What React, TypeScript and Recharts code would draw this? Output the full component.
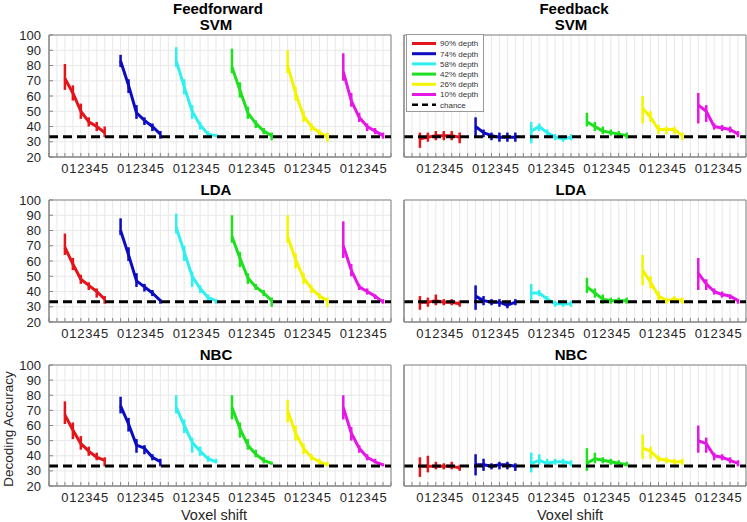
import React from 'react';
import { LineChart, Line, XAxis, YAxis, CartesianGrid, ReferenceLine, ReferenceArea, ErrorBar } from 'recharts';

const depthLabels = ['90% depth', '74% depth', '58% depth', '42% depth', '26% depth', '10% depth'];
const depthColors = ['#e3151a', '#0b0bc2', '#2ef0f0', '#1ee01e', '#f4f400', '#e616e6'];
const shiftLabels = ['0', '1', '2', '3', '4', '5'];
const groupStarts = [2, 9, 16, 23, 30, 37];
const yTicks = [20, 30, 40, 50, 60, 70, 80, 90, 100];
const chance = 33.3;

// Feedforward SVM
const ffSvmMean = [
  [71.5, 62, 50, 43, 40, 36],
  [83, 67, 49, 44, 40, 35],
  [83, 66, 50, 41, 35, 34],
  [79, 64, 49, 42, 37, 34],
  [80, 62, 47, 40, 36, 33],
  [76, 57, 46, 40, 37, 34],
];
const ffSvmLow = [
  [64, 57, 45, 40, 37, 33],
  [79, 62, 45, 41, 37, 32],
  [79, 61, 45, 38, 33, 33],
  [75, 59, 45, 39, 35, 31],
  [75, 57, 43, 37, 34, 30],
  [70, 53, 43, 37, 35, 32],
];
const ffSvmHigh = [
  [81, 67, 55, 46, 43, 40],
  [87, 71, 54, 46, 42, 37],
  [92, 71, 54, 43, 37, 35],
  [91, 69, 53, 44, 39, 36],
  [90, 66, 50, 42, 38, 36],
  [88, 62, 49, 42, 39, 36],
];

// Feedback SVM
const fbSvmMean = [
  [32, 33, 34, 34, 34, 33],
  [40, 36, 34, 33, 33, 33],
  [37, 40, 36, 33, 32, 33],
  [43, 40, 37, 36, 35, 34],
  [52, 46, 38, 38, 38, 34],
  [54, 50, 40, 39, 38, 35],
];
const fbSvmLow = [
  [26, 30, 31, 31, 31, 29],
  [33, 33, 31, 30, 30, 30],
  [29, 37, 33, 31, 30, 31],
  [40, 37, 35, 34, 33, 32],
  [42, 43, 35, 35, 35, 31],
  [42, 43, 38, 37, 36, 33],
];
const fbSvmHigh = [
  [36, 36, 37, 37, 37, 36],
  [46, 38, 36, 36, 36, 36],
  [43, 42, 38, 35, 34, 35],
  [49, 43, 40, 38, 37, 36],
  [60, 50, 41, 40, 40, 36],
  [62, 54, 42, 41, 40, 37],
];

// Feedforward LDA
const ffLdaMean = [
  [69, 58, 48, 44, 40, 35],
  [80, 64, 47, 43, 39, 34],
  [82, 66, 50, 42, 36, 34],
  [76, 62, 49, 43, 39, 34],
  [76, 61, 49, 42, 37, 34],
  [70, 54, 43, 40, 37, 33],
];
const ffLdaLow = [
  [64, 54, 45, 41, 36, 32],
  [77, 60, 43, 40, 37, 32],
  [78, 60, 43, 39, 34, 32],
  [72, 56, 45, 41, 37, 30],
  [72, 55, 45, 39, 35, 30],
  [62, 50, 41, 38, 35, 32],
];
const ffLdaHigh = [
  [78, 62, 51, 46, 42, 37],
  [88, 69, 52, 45, 41, 35],
  [91, 70, 53, 44, 38, 35],
  [90, 66, 52, 45, 41, 36],
  [90, 65, 52, 44, 39, 36],
  [86, 58, 45, 42, 38, 35],
];

// Feedback LDA
const fbLdaMean = [
  [33, 33, 34, 33, 33, 32],
  [37, 34, 33, 33, 31, 33],
  [39, 39, 35, 32, 32, 32],
  [43, 39, 35, 34, 34, 34],
  [54, 46, 37, 34, 35, 34],
  [52, 45, 40, 38, 37, 34],
];
const fbLdaLow = [
  [28, 30, 31, 31, 31, 30],
  [28, 31, 31, 30, 29, 31],
  [33, 37, 33, 30, 30, 30],
  [39, 36, 32, 32, 32, 32],
  [44, 42, 34, 32, 33, 32],
  [41, 41, 38, 36, 35, 32],
];
const fbLdaHigh = [
  [37, 36, 38, 35, 35, 34],
  [44, 37, 35, 35, 33, 35],
  [45, 41, 37, 34, 34, 34],
  [49, 42, 38, 36, 36, 36],
  [64, 50, 40, 36, 37, 36],
  [62, 48, 42, 40, 38, 35],
];

// Feedforward NBC
const ffNbcMean = [
  [67, 57, 48, 43, 39, 37],
  [73, 61, 47, 45, 39, 36],
  [72, 60, 49, 43, 38, 36],
  [72, 58, 47, 41, 37, 35],
  [70, 55, 45, 39, 36, 34],
  [72, 55, 45, 39, 36, 34],
];
const ffNbcLow = [
  [61, 51, 44, 40, 37, 33],
  [68, 56, 42, 41, 37, 33],
  [68, 55, 42, 40, 36, 35],
  [64, 52, 44, 39, 35, 34],
  [62, 50, 41, 37, 34, 33],
  [64, 50, 42, 37, 35, 33],
];
const ffNbcHigh = [
  [76, 62, 53, 46, 42, 39],
  [79, 65, 51, 47, 41, 38],
  [80, 64, 52, 46, 40, 38],
  [80, 62, 51, 44, 39, 36],
  [77, 60, 48, 41, 38, 36],
  [80, 59, 47, 41, 38, 35],
];

// Feedback NBC
const fbNbcMean = [
  [33, 33, 33, 33, 33, 32],
  [34, 34, 33, 34, 34, 33],
  [35, 37, 35, 36, 36, 35],
  [35, 38, 37, 36, 35, 34],
  [45, 43, 38, 37, 36, 36],
  [50, 48, 40, 39, 37, 35],
];
const fbNbcLow = [
  [26, 29, 31, 31, 31, 30],
  [27, 30, 31, 31, 31, 30],
  [29, 34, 33, 34, 34, 33],
  [30, 35, 35, 34, 33, 33],
  [38, 38, 36, 35, 34, 34],
  [42, 42, 37, 37, 35, 33],
];
const fbNbcHigh = [
  [39, 40, 36, 35, 36, 34],
  [41, 38, 35, 36, 36, 35],
  [42, 41, 38, 38, 38, 37],
  [45, 42, 39, 38, 37, 36],
  [54, 46, 40, 39, 38, 38],
  [60, 52, 42, 41, 39, 37],
];

const FONT = '"Liberation Sans", Arial, Helvetica, sans-serif';
const AXIS_W = 50;
const PAD = 6;
const X_H = 24;
const PLOT_W = 342;
const PLOT_H = 122;
const BOX = '#858585';

const xTicks = Array.from({ length: 44 }, (_, i) => i);
const xTickLabel = (v: number) => {
  for (const s of groupStarts) {
    const k = v - s;
    if (k >= 0 && k < shiftLabels.length) return shiftLabels[k];
  }
  return '';
};

const buildSeries = (mean: number[][], low: number[][], high: number[][]) =>
  mean.map((row, d) =>
    row.map((m, i) => ({ x: groupStarts[d] + i, y: m, err: [m - low[d][i], high[d][i] - m] }))
  );

const panels = [
  { title: 'SVM', left: 49, top: 35, h: 122, labels: true, series: buildSeries(ffSvmMean, ffSvmLow, ffSvmHigh) },
  { title: 'SVM', left: 404, top: 35, h: 122, labels: false, series: buildSeries(fbSvmMean, fbSvmLow, fbSvmHigh) },
  { title: 'LDA', left: 49, top: 200, h: 122, labels: true, series: buildSeries(ffLdaMean, ffLdaLow, ffLdaHigh) },
  { title: 'LDA', left: 404, top: 200, h: 122, labels: false, series: buildSeries(fbLdaMean, fbLdaLow, fbLdaHigh) },
  { title: 'NBC', left: 49, top: 365, h: 121, labels: true, series: buildSeries(ffNbcMean, ffNbcLow, ffNbcHigh) },
  { title: 'NBC', left: 404, top: 365, h: 121, labels: false, series: buildSeries(fbNbcMean, fbNbcLow, fbNbcHigh) },
];

const Text = ({ x, y, size, bold, rotate, children }: any) => (
  <div
    style={{
      position: 'absolute',
      left: x,
      top: y,
      transform: `translate(-50%, -50%)${rotate ? ' rotate(-90deg)' : ''}`,
      fontSize: size,
      fontWeight: bold ? 700 : 400,
      lineHeight: 1,
      whiteSpace: 'nowrap',
      color: bold ? '#000' : '#262626',
    }}
  >
    {children}
  </div>
);

const Panel = ({ p }: any) => (
  <div style={{ position: 'absolute', left: p.left - AXIS_W, top: p.top - PAD }}>
    <LineChart
      width={AXIS_W + PLOT_W + PAD}
      height={PAD + p.h + X_H}
      margin={{ top: PAD, right: PAD, bottom: 0, left: 0 }}
    >
      <CartesianGrid stroke="#e8e8e8" />
      <XAxis
        dataKey="x"
        type="number"
        domain={[0, 43]}
        ticks={xTicks}
        interval={0}
        tickFormatter={xTickLabel}
        allowDataOverflow
        height={X_H}
        stroke={BOX}
        tickSize={-4}
        tickMargin={11}
        tick={{ fill: '#262626', fontSize: 13, fontFamily: FONT }}
      />
      <XAxis
        xAxisId="t"
        orientation="top"
        type="number"
        domain={[0, 43]}
        ticks={xTicks}
        interval={0}
        height={0}
        stroke={BOX}
        tickSize={-4}
        tick={false}
      />
      <YAxis
        type="number"
        domain={[20, 100]}
        ticks={yTicks}
        interval={0}
        allowDataOverflow
        width={AXIS_W}
        stroke={BOX}
        tickSize={-4}
        tickMargin={12}
        tick={p.labels ? { fill: '#262626', fontSize: 13, fontFamily: FONT } : false}
      />
      <YAxis
        yAxisId="r"
        orientation="right"
        type="number"
        domain={[20, 100]}
        ticks={yTicks}
        interval={0}
        width={0}
        stroke={BOX}
        tickSize={-4}
        tick={false}
      />
      <ReferenceArea x1={0} x2={43} y1={20} y2={100} fill="none" stroke={BOX} strokeWidth={1} />
      {p.series.map((data: any[], d: number) => (
        <Line
          key={d}
          data={data}
          dataKey="y"
          stroke={depthColors[d]}
          strokeWidth={3}
          strokeLinejoin="round"
          dot={false}
          isAnimationActive={false}
        >
          <ErrorBar dataKey="err" width={0} stroke={depthColors[d]} strokeWidth={2.5} direction="y" isAnimationActive={false} />
        </Line>
      ))}
      <ReferenceLine y={chance} stroke="#000" strokeWidth={3} strokeDasharray="9 5" />
    </LineChart>
  </div>
);

const LegendBox = () => (
  <svg width={78} height={78} style={{ position: 'absolute', left: 406, top: 34 }}>
    <rect x={0.5} y={0.5} width={77} height={77} fill="#fff" stroke="#9a9a9a" />
    {depthLabels.map((label, i) => (
      <g key={label}>
        <line x1={6} x2={30} y1={9.5 + i * 10.2} y2={9.5 + i * 10.2} stroke={depthColors[i]} strokeWidth={3} />
        <text x={34} y={9.5 + i * 10.2} dy="0.35em" fontSize={8} fill="#333" fontFamily={FONT}>
          {label}
        </text>
      </g>
    ))}
    <line x1={6} x2={30} y1={9.5 + 6 * 10.2} y2={9.5 + 6 * 10.2} stroke="#000" strokeWidth={2.5} strokeDasharray="6 4" />
    <text x={34} y={9.5 + 6 * 10.2} dy="0.35em" fontSize={8} fill="#333" fontFamily={FONT}>
      chance
    </text>
  </svg>
);

export default function App() {
  return (
    <div
      style={{
        position: 'absolute',
        left: 0,
        top: 0,
        width: 747,
        height: 522,
        background: '#fff',
        fontFamily: FONT,
        overflow: 'hidden',
      }}
    >
      {panels.map((p, i) => (
        <Panel key={i} p={p} />
      ))}
      <Text x={218} y={8} size={15} bold>Feedforward</Text>
      <Text x={574} y={8} size={15} bold>Feedback</Text>
      {panels.map((p, i) => (
        <Text key={i} x={p.left + PLOT_W / 2 - 4} y={p.top - 11} size={15} bold>
          {p.title}
        </Text>
      ))}
      <LegendBox />
      <Text x={214} y={515} size={14.5}>Voxel shift</Text>
      <Text x={570} y={515} size={14.5}>Voxel shift</Text>
      <Text x={9} y={429} size={13.5} rotate>Decoding Accuracy</Text>
    </div>
  );
}
